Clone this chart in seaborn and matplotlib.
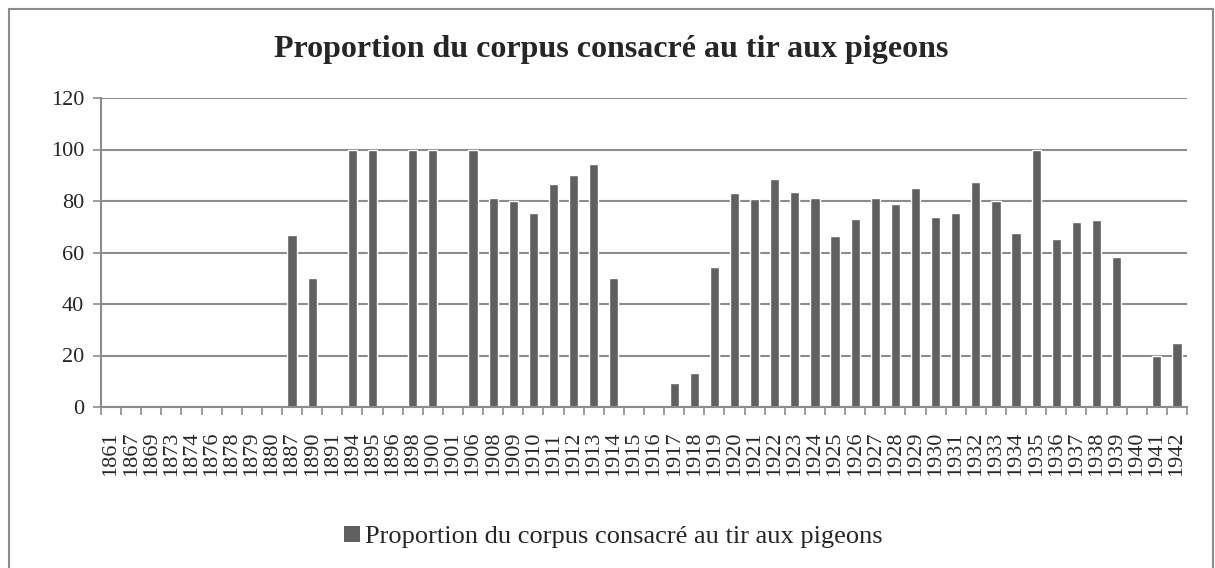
import pandas as pd
import matplotlib
matplotlib.use('Agg')
import matplotlib.pyplot as plt
import seaborn as sns
from matplotlib.patches import Patch, Rectangle


sns.set_style('white')
# police type Times
plt.rcParams['font.family'] = ['Liberation Serif', 'DejaVu Serif']

# années du corpus
years = ['1861', '1867', '1869', '1873', '1874', '1876', '1878', '1879', '1880',
         '1887', '1890', '1891', '1894', '1895', '1896', '1898', '1900', '1901',
         '1906', '1908', '1909', '1910', '1911', '1912', '1913', '1914', '1915',
         '1916', '1917', '1918', '1919', '1920', '1921', '1922', '1923', '1924',
         '1925', '1926', '1927', '1928', '1929', '1930', '1931', '1932', '1933',
         '1934', '1935', '1936', '1937', '1938', '1939', '1940', '1941', '1942']

# proportion (%) consacrée au tir aux pigeons
proportion = [0, 0, 0, 0, 0, 0, 0, 0, 0,
              66.7, 50, 0, 100, 100, 0, 100, 100, 0,
              100, 81, 80, 75.3, 86.5, 90.1, 94.3, 50, 0,
              0, 9.5, 13.1, 54.4, 83, 80.6, 88.7, 83.6, 81.2,
              66.5, 73.1, 81.3, 78.8, 85.1, 73.9, 75.5, 87.4, 80,
              67.5, 100, 65.3, 71.7, 72.6, 58.4, 0, 20, 25]

serie = 'Proportion du corpus consacré au tir aux pigeons'
df = pd.DataFrame({'annee': years, 'valeur': proportion})

bar_color = '#606060'
grid_color = '#8c8c8c'

fig = plt.figure(figsize=(12.15, 5.68), dpi=100)
ax = fig.add_axes([101 / 1215, 1 - 407 / 568, (1187 - 101) / 1215, (407 - 98) / 568])

sns.barplot(data=df, x='annee', y='valeur', order=years, color=bar_color,
            saturation=1, width=0.46, ax=ax)

ax.set_xlim(-0.5, len(years) - 0.5)
ax.set_ylim(0, 120)
ax.set_yticks(range(0, 121, 20))
ax.set_xlabel('')
ax.set_ylabel('')

# grille horizontale
ax.yaxis.grid(True, color=grid_color, linewidth=1.5)
ax.set_axisbelow(True)
for side in ['top', 'right']:
    ax.spines[side].set_visible(False)
for side in ['left', 'bottom']:
    ax.spines[side].set_color(grid_color)
    ax.spines[side].set_linewidth(1.5)

# graduations entre les catégories
ax.set_xticks([i - 0.5 for i in range(len(years) + 1)], minor=True)
ax.tick_params(axis='x', which='minor', length=6, width=1.2, color=grid_color,
               direction='out', bottom=True)
ax.tick_params(axis='x', which='major', length=0, pad=18, labelsize=16,
               labelrotation=90)
ax.tick_params(axis='y', which='major', length=6, width=1.2, color=grid_color,
               direction='out', left=True, labelsize=16, pad=6)

fig.text(0.503, 1 - 49 / 568, serie, ha='center', va='center',
         fontsize=23, fontweight='bold')

handle = Patch(facecolor=bar_color, edgecolor='none', label=serie)
fig.legend(handles=[handle], loc='center', bbox_to_anchor=(0.505, 1 - 537 / 568),
           frameon=False, fontsize=19, handlelength=0.6, handleheight=0.6,
           handletextpad=0.2)

# cadre extérieur
fig.patches.append(Rectangle((9 / 1215, -0.01), (1213 - 9) / 1215, 1 - 9 / 568 + 0.01,
                             transform=fig.transFigure, fill=False,
                             edgecolor=grid_color, linewidth=1.5))

fig.savefig('out.png', dpi=100)
